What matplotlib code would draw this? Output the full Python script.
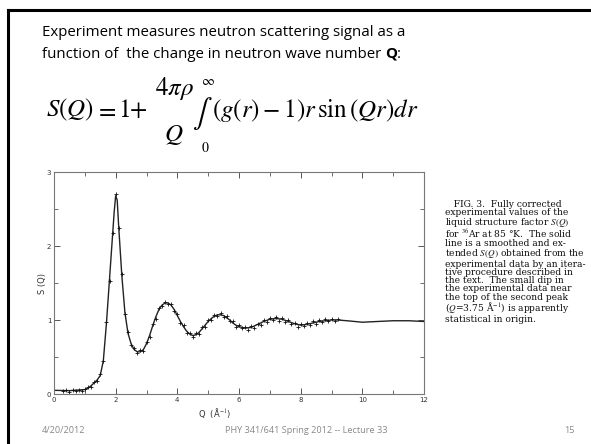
import numpy as np
import matplotlib.pyplot as plt
from matplotlib.ticker import MultipleLocator

# smooth S(Q) curve
q_line = [0.0, 0.5, 1.0, 1.1, 1.2, 1.3, 1.4, 1.5, 1.6, 1.7, 1.8, 1.9, 1.95, 2.0,
          2.05, 2.1, 2.2, 2.3, 2.4, 2.5, 2.6, 2.7, 2.8, 2.9, 3.0, 3.1, 3.2, 3.3,
          3.4, 3.5, 3.6, 3.7, 3.8, 3.9, 4.0, 4.1, 4.2, 4.3, 4.4, 4.5, 4.6, 4.7,
          4.8, 4.9, 5.0, 5.1, 5.2, 5.3, 5.4, 5.5, 5.6, 5.7, 5.8, 5.9, 6.0, 6.2,
          6.4, 6.6, 6.8, 7.0, 7.2, 7.4, 7.6, 7.8, 8.0, 8.2, 8.4, 8.6, 8.8, 9.0,
          9.2, 9.5, 10.0, 10.5, 11.0, 11.5, 12.0]
s_line = [0.05, 0.045, 0.06, 0.08, 0.11, 0.15, 0.19, 0.25, 0.45, 0.95, 1.55, 2.15, 2.45, 2.68,
          2.62, 2.25, 1.60, 1.10, 0.82, 0.68, 0.60, 0.57, 0.57, 0.60, 0.68, 0.79, 0.92, 1.04,
          1.14, 1.20, 1.23, 1.23, 1.20, 1.14, 1.06, 0.98, 0.91, 0.85, 0.81, 0.79, 0.80, 0.83,
          0.88, 0.93, 0.98, 1.02, 1.05, 1.07, 1.07, 1.06, 1.03, 1.00, 0.96, 0.93, 0.91, 0.89,
          0.90, 0.94, 0.98, 1.01, 1.02, 1.01, 0.98, 0.95, 0.93, 0.94, 0.96, 0.98, 0.99, 1.00,
          1.00, 0.99, 0.97, 0.98, 0.99, 0.99, 0.98]

# experimental points (scattered around the line)
q_exp = [0.3, 0.4, 0.5, 0.6, 0.7, 0.8, 0.9, 1.0, 1.1, 1.2, 1.3, 1.4, 1.5, 1.6, 1.7,
         1.8, 1.9, 2.0, 2.1, 2.2, 2.3, 2.4, 2.5, 2.6, 2.7, 2.8, 2.9, 3.0, 3.1, 3.2,
         3.3, 3.4, 3.5, 3.6, 3.7, 3.8, 3.9, 4.0, 4.1, 4.2, 4.3, 4.4, 4.5, 4.6, 4.7,
         4.8, 4.9, 5.0, 5.1, 5.2, 5.3, 5.4, 5.5, 5.6, 5.7, 5.8, 5.9, 6.0, 6.1, 6.2,
         6.3, 6.4, 6.5, 6.6, 6.7, 6.8, 6.9, 7.0, 7.1, 7.2, 7.3, 7.4, 7.5, 7.6, 7.7,
         7.8, 7.9, 8.0, 8.1, 8.2, 8.3, 8.4, 8.5, 8.6, 8.7, 8.8, 8.9, 9.0, 9.1, 9.2]
s_exp = [0.04, 0.06, 0.03, 0.05, 0.04, 0.06, 0.04, 0.07, 0.09, 0.10, 0.16, 0.18, 0.27, 0.44, 0.97,
         1.53, 2.17, 2.70, 2.24, 1.62, 1.08, 0.84, 0.66, 0.62, 0.55, 0.59, 0.58, 0.70, 0.77, 0.94,
         1.02, 1.16, 1.19, 1.25, 1.21, 1.22, 1.12, 1.08, 0.96, 0.93, 0.83, 0.83, 0.77, 0.82, 0.81,
         0.90, 0.91, 1.00, 1.00, 1.07, 1.05, 1.09, 1.04, 1.05, 0.98, 0.98, 0.91, 0.93, 0.89, 0.90,
         0.87, 0.92, 0.89, 0.95, 0.93, 1.00, 0.97, 1.03, 1.00, 1.04, 0.99, 1.03, 0.97, 1.00, 0.94,
         0.96, 0.91, 0.95, 0.92, 0.96, 0.93, 0.98, 0.95, 1.00, 0.97, 1.01, 0.98, 1.02, 0.99, 1.01]

x_ticks = [0, 2, 4, 6, 8, 10, 12]
y_ticks = [0, 1, 2, 3]

caption = ["   FIG. 3.  Fully corrected",
           "experimental values of the",
           "liquid structure factor $S(Q)$",
           "for $^{36}$Ar at 85 \u00b0K.  The solid",
           "line is a smoothed and ex-",
           "tended $S(Q)$ obtained from the",
           "experimental data by an itera-",
           "tive procedure described in",
           "the text.  The small dip in",
           "the experimental data near",
           "the top of the second peak",
           "($Q$=3.75 \u00c5$^{-1}$) is apparently",
           "statistical in origin."]

plt.rcParams['mathtext.fontset'] = 'stix'

W, H = 591, 444
fig = plt.figure(figsize=(5.91, 4.44), dpi=100)
r = fig.canvas.get_renderer()


def fx(px):
    return px / W


def fy(py):
    return 1 - py / H


# slide frame (top and left edges)
fig.add_artist(plt.Line2D([fx(8), 1], [fy(10), fy(10)], color='black', lw=2.2))
fig.add_artist(plt.Line2D([fx(8), fx(8)], [0, fy(10)], color='black', lw=2.2))

hdr = dict(family='Open Sans', fontsize=10.8, va='center')
fig.text(fx(42), fy(33), "Experiment measures neutron scattering signal as a", **hdr)
t = fig.text(fx(42), fy(54), "function of  the change in neutron wave number ", **hdr)
bb = t.get_window_extent(r)
tq = fig.text(bb.x1 / W, fy(54), "Q", weight='bold', **hdr)
bb = tq.get_window_extent(r)
fig.text(bb.x1 / W, fy(54), ":", **hdr)

# equation, assembled piece by piece
eq = dict(fontsize=18, va='center')
x = 46
for piece, gap in [(r"$S(Q)$", 1), (r"$=$", 1), (r"$1$", 0), (r"$+$", 0)]:
    t = fig.text(fx(x), fy(110), piece, **eq)
    x = t.get_window_extent(r).x1 + gap
fig.text(fx(174), fy(88), r"$4\pi\rho$", ha='center', **eq)
fig.text(fx(174), fy(135), r"$Q$", ha='center', **eq)
fig.text(fx(202), fy(113), r"$\int$", ha='center', fontsize=21, va='center')
fig.text(fx(208), fy(81), r"$\infty$", ha='center', fontsize=10, va='center')
fig.text(fx(205), fy(148), r"$0$", ha='center', fontsize=10, va='center')
fig.text(fx(212), fy(110), r"$\left(g(r)-1\right)r\,\sin\left(Qr\right)dr$", **eq)

ax = fig.add_axes([fx(54), fy(394), 370 / W, 222 / H])
ax.plot(q_line, s_line, color='#222222', lw=1.0)
ax.plot(q_exp, s_exp, '+', color='#111111', ms=2.2, mew=0.6)
ax.set_xlim(0, 12)
ax.set_ylim(0, 3)
ax.set_xticks(x_ticks)
ax.set_yticks(y_ticks)
ax.xaxis.set_minor_locator(MultipleLocator(1))
ax.yaxis.set_minor_locator(MultipleLocator(0.5))
ax.tick_params(which='both', direction='in', top=True, right=True, labelsize=5,
               color='#555555', labelcolor='#333333', pad=2)
ax.tick_params(which='major', length=4, width=0.7)
ax.tick_params(which='minor', length=3, width=0.6)
for sp in ax.spines.values():
    sp.set_color('#777777')
    sp.set_linewidth(0.8)
ax.set_xlabel("Q  (\u00c5$^{-1}$)", fontsize=6, color='#333333')
ax.set_ylabel("S (Q)", fontsize=6, color='#333333')
ax.xaxis.set_label_coords(0.435, -0.055)
ax.yaxis.set_label_coords(-0.018, 0.5)

fig.text(fx(445), fy(200), "\n".join(caption), family='DejaVu Serif', fontsize=6.6,
         va='top', color='#111111', linespacing=0.89)

foot = dict(family='Open Sans', fontsize=6.6, color='#888888', va='center')
fig.text(fx(42), fy(430), "4/20/2012", **foot)
fig.text(fx(306), fy(430), "PHY 341/641 Spring 2012 -- Lecture 33", ha='center', **foot)
fig.text(fx(575), fy(430), "15", ha='right', **foot)

fig.savefig("out.png", dpi=100)
